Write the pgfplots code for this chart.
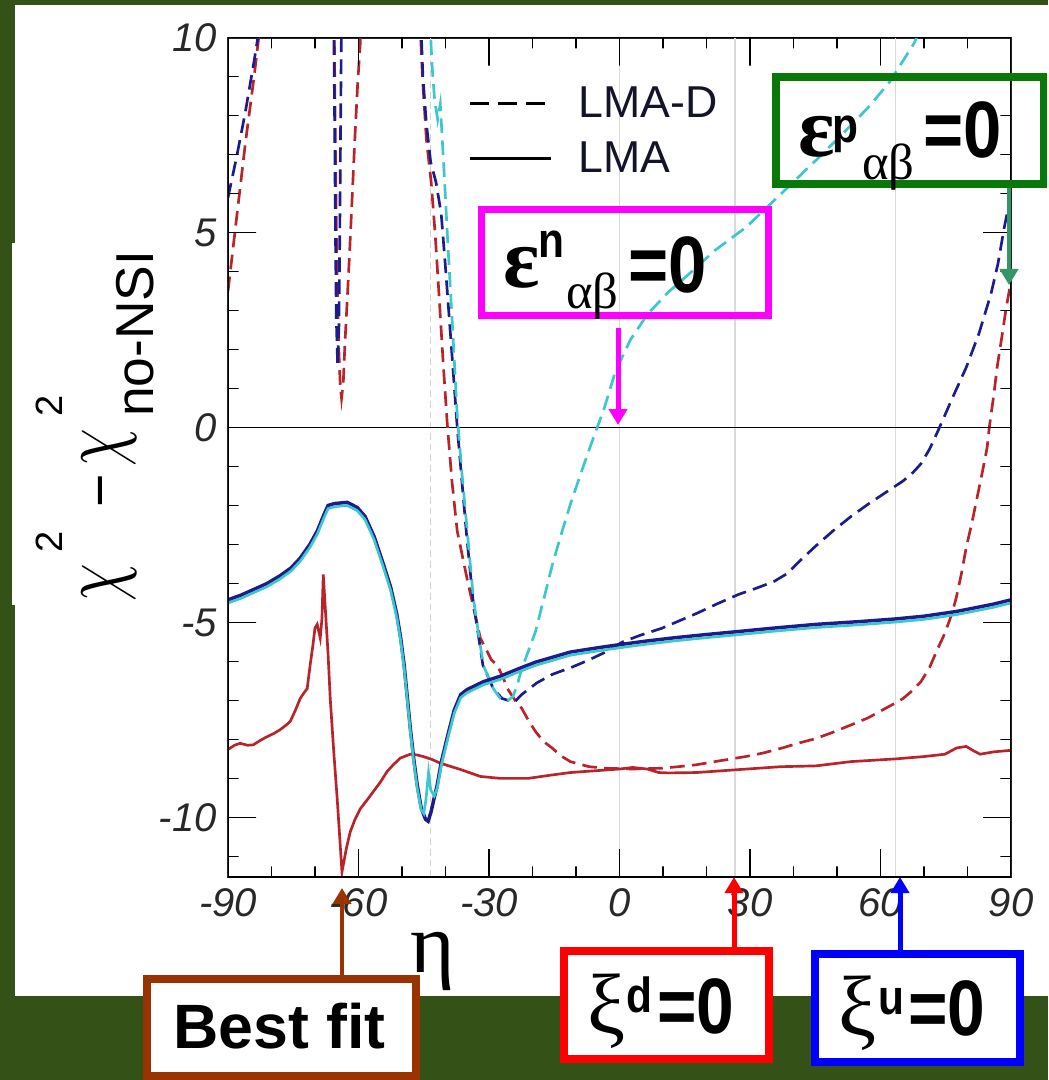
\documentclass[border=0pt]{standalone}
\usepackage{pgfplots}
\pgfplotsset{compat=1.18}
\usepackage{graphicx}
\usepackage{fontspec}
\setmainfont{Liberation Sans}
\newfontfamily\grk{Liberation Serif}
\usetikzlibrary{arrows.meta}
\definecolor{bggreen}{RGB}{52,81,23}
\definecolor{cnavy}{RGB}{28,28,140}
\definecolor{ccyan}{RGB}{60,198,205}
\definecolor{cred}{RGB}{185,35,42}
\definecolor{boxgreen}{RGB}{8,120,8}
\definecolor{arrgreen}{RGB}{51,150,100}
\definecolor{cbrown}{RGB}{153,51,0}
\definecolor{cmag}{RGB}{255,0,255}
\definecolor{tickcol}{RGB}{40,40,40}
\definecolor{legcol}{RGB}{20,20,40}
\newcommand\fs[1]{\fontsize{#1}{#1}\selectfont}
\begin{document}
\begin{tikzpicture}
\begin{scope}[x=0.75pt,y=-0.75pt]
\useasboundingbox (0,0) rectangle (1048,1080);
\fill[bggreen] (0,0) rectangle (1048,1080);
\fill[white] (15,5) rectangle (1048,996);
\fill[white] (12,243) rectangle (120,605);
\end{scope}
\begin{axis}[at={(171pt,-657.75pt)}, anchor=south west,
  width=587.25pt, height=629.5pt, scale only axis,
  xmin=-90, xmax=90, ymin=-11.53, ymax=10,
  xtick={-90,-60,-30,0,30,60,90},
  ytick={-10,-5,0,5,10},
  major tick length=0pt, minor tick length=0pt,
  axis line style={line width=1.5pt, black!85},
  /pgf/number format/assume math mode=true,
  ticklabel style={font=\fs{30pt}\itshape, text=tickcol},
  xticklabel style={yshift=-5pt},
  yticklabel style={xshift=-5pt},
  legend image code/.code={\draw[#1] (0pt,0pt) -- (60.75pt,0pt);},
  legend style={draw=none, fill=none, at={(rel axis cs:0.3065,0.9413)}, anchor=north west,
    font=\fs{33.5pt}, text=legcol, inner sep=0pt, row sep=16.5pt, column sep=19.5pt,
    nodes={inner sep=0pt, anchor=west}},
  legend cell align=left,
]
\addplot[gray!30, line width=1.1pt, forget plot] coordinates {(0,-11.53) (0,10)};
\addplot[gray!30, line width=1.1pt, forget plot] coordinates {(26.57,-11.53) (26.57,10)};
\addplot[gray!30, line width=1.1pt, forget plot] coordinates {(63.43,-11.53) (63.43,10)};
\addplot[gray!35, line width=1pt, dash pattern=on 5pt off 3pt, forget plot] coordinates {(-43.5,-11.53) (-43.5,10)};
\addplot[black, line width=1.1pt, forget plot] coordinates {(-90,0) (90,0)};
% red dashed (LMA-D)
\addplot[cred, line width=2pt, dash pattern=on 11pt off 5.5pt, forget plot] coordinates {
(-90,3.5) (-88,5.4) (-86,7.3) (-84,9.0) (-83,9.95) (-82.5,10.5)};
\addplot[cred, line width=2pt, dash pattern=on 11pt off 5.5pt, forget plot] coordinates {
(-65.6,10.5) (-65.3,7) (-65.0,4.2) (-64.6,2.2) (-64.2,1.1) (-63.9,0.75) (-63.5,1.15) (-63.1,2.2)
(-62.6,3.25) (-62.0,4.6) (-61.5,5.8) (-60.8,7.5) (-60.2,8.8) (-59.6,9.85) (-59.4,10.5)};
\addplot[cred, line width=2pt, dash pattern=on 11pt off 5.5pt, forget plot] coordinates {
(-45.9,10.5) (-45.3,9.0) (-44.4,7.4) (-43.3,6.3) (-42.4,5.0) (-41.6,3.6) (-40.5,1.6) (-39.6,0.1)
(-38.5,-1.4) (-37.3,-2.66) (-35,-3.9) (-32,-5.4) (-29.5,-5.95) (-28.1,-6.1) (-26.8,-6.4) (-25.8,-6.69)
(-24,-7.0) (-22.5,-7.2) (-21,-7.5) (-19.3,-7.8) (-17.5,-8.05) (-15.4,-8.23) (-13.5,-8.42) (-11.3,-8.57)
(-7,-8.7) (-3.2,-8.74) (3,-8.76) (9.7,-8.74) (13.5,-8.7) (17.7,-8.65) (23,-8.55) (29,-8.44) (33,-8.35)
(37.1,-8.23) (41,-8.1) (45.1,-7.98) (49,-7.82) (53.2,-7.63) (57.1,-7.45) (61.2,-7.2) (63.2,-7.08)
(65.2,-6.95) (67.3,-6.75) (69.3,-6.52) (71.3,-6.15) (73.2,-5.66) (74.5,-5.35) (75.8,-4.97) (76.6,-4.7)
(77.4,-4.37) (78.6,-3.75) (79.7,-3.08) (81,-2.45) (82.2,-1.8) (83.4,-1.15) (84.5,-0.52) (85,0)
(86,0.8) (86.8,1.54) (88,2.4) (88.9,3.08) (90,3.75)};
% navy dashed (LMA-D)
\addplot[cnavy, line width=2pt, dash pattern=on 11pt off 5.5pt, forget plot] coordinates {
(-90,5.9) (-88,6.95) (-86,8.1) (-84,9.4) (-83,10.1) (-82.5,10.5)};
\addplot[cnavy, line width=2pt, dash pattern=on 11pt off 5.5pt, forget plot] coordinates {
(-65.7,10.5) (-65.5,8) (-65.3,5) (-65.1,2.8) (-64.8,1.6) (-64.5,2.6) (-64.3,5) (-64.1,8) (-63.9,10.5)};
\addplot[cnavy, line width=2pt, dash pattern=on 11pt off 5.5pt, forget plot] coordinates {
(-45.7,10.5) (-45.2,9.0) (-44.4,7.8) (-43.4,6.8) (-42.2,6.3) (-41,5.5) (-40,4.1) (-38.6,2) (-37.3,0)
(-35.2,-2.7) (-33.7,-4.4) (-31.4,-6.1) (-29,-6.7) (-27,-6.95) (-24.2,-7.05) (-22.5,-6.85) (-19,-6.55)
(-15.4,-6.33) (-11,-6.15) (-7.4,-5.98) (-3,-5.75) (0.7,-5.5) (5,-5.32) (9.7,-5.15) (13.5,-4.97)
(17.7,-4.77) (22.5,-4.52) (27.4,-4.28) (31.5,-4.12) (35.5,-3.95) (38.5,-3.75) (41,-3.47) (45,-3.05)
(49,-2.66) (53,-2.3) (57.1,-1.97) (61,-1.68) (65.2,-1.37) (67.5,-1.15) (69.3,-0.93) (71.3,-0.55)
(73.2,-0.09) (76.5,0.75) (79.7,1.54) (82.6,2.4) (85.4,3.43) (87,4.2) (88.4,5.1) (90,6.0)};
% cyan dashed (LMA-D)
\addplot[ccyan, line width=2pt, dash pattern=on 11pt off 5.5pt, forget plot] coordinates {
(-43.6,10.5) (-43.1,9.3) (-42.5,8.4) (-41.8,7.9) (-41.2,8.3) (-40.8,7.5) (-40.2,6.3) (-39.6,5.0)
(-38.4,2.6) (-37.3,0.3) (-36.2,-1.2) (-35,-2.66) (-33.6,-4.37) (-32.4,-5.3) (-31.3,-6.1) (-29,-6.7)
(-27.4,-6.95) (-25.8,-7.02) (-24.5,-6.9) (-23.5,-6.6) (-22.5,-6.2) (-21,-5.75) (-19.3,-5.23)
(-17.3,-4.35) (-15.4,-3.5) (-13.3,-2.7) (-11.3,-1.97) (-8.8,-1.15) (-6.5,-0.42) (-3.5,0.5)
(-0.9,1.45) (2.5,2.25) (6.4,2.9) (11,3.45) (16.1,3.95) (22,4.55) (29,5.13) (35.5,5.82) (40,6.3)
(45.1,6.85) (51,7.5) (57.1,8.2) (62,8.85) (67.7,9.85) (69,10.2) (70,10.5)};
% red solid (LMA)
\addplot[cred, line width=2pt, forget plot] coordinates {
(-90,-8.26) (-88.5,-8.15) (-87.2,-8.1) (-85.5,-8.15) (-84.2,-8.14) (-82.5,-8.02) (-81,-7.93)
(-79.5,-7.85) (-78,-7.75) (-76.5,-7.62) (-75.7,-7.54) (-74.5,-7.25) (-73.4,-6.95) (-72.5,-6.8)
(-71.8,-6.7) (-71.1,-6.08) (-70.5,-5.6) (-70,-5.14) (-69.5,-5.05) (-68.8,-5.4) (-68.4,-4.9)
(-68.1,-3.77) (-67.6,-4.7) (-67,-5.8) (-66.5,-6.95) (-65.7,-8.3) (-64.9,-9.52) (-63.8,-11.4)
(-62.8,-10.8) (-61.9,-10.37) (-60.8,-10.05) (-59.6,-9.78) (-58,-9.55) (-56.6,-9.34) (-55,-9.1)
(-53.4,-8.82) (-52,-8.65) (-50.4,-8.48) (-48.1,-8.38) (-46.5,-8.4) (-45.1,-8.44) (-43,-8.52)
(-41.2,-8.61) (-36.6,-8.77) (-32,-8.95) (-27.4,-9.0) (-21,-9.0) (-16,-8.92) (-11.3,-8.85) (-5,-8.8)
(0,-8.76) (3,-8.72) (6.4,-8.76) (9,-8.85) (11.3,-8.86) (17.7,-8.85) (26.7,-8.78) (37.1,-8.7)
(45.1,-8.68) (53.2,-8.57) (63.5,-8.5) (70,-8.44) (74.8,-8.38) (77.5,-8.22) (79.7,-8.18) (81.5,-8.3)
(82.9,-8.38) (86,-8.32) (90,-8.28)};
% navy solid (LMA)
\addplot[cnavy, line width=2.6pt, forget plot] coordinates {
(-90,-4.42) (-87,-4.3) (-84,-4.15) (-81,-4.0) (-78,-3.8) (-75.5,-3.6) (-73.4,-3.35) (-71.2,-3.0)
(-69.5,-2.66) (-68,-2.25) (-67,-2.0) (-65.5,-1.95) (-62.6,-1.92) (-60.3,-2.05) (-58.5,-2.28)
(-56.4,-2.8) (-54.3,-3.5) (-52.6,-4.1) (-51.2,-4.79) (-50.3,-5.4) (-49.5,-6.1) (-48.8,-6.9)
(-48.1,-7.7) (-47.3,-8.5) (-46.5,-9.17) (-45.6,-9.75) (-44.6,-10.05) (-44,-10.1) (-43.3,-9.85)
(-42.6,-9.5) (-41.9,-9.17) (-41,-8.6) (-39.6,-7.95) (-38,-7.25) (-36.5,-6.85) (-35,-6.72)
(-31.3,-6.52) (-27.4,-6.38) (-22.8,-6.17) (-19.3,-6.02) (-15,-5.88) (-11.3,-5.76) (-5,-5.65)
(0,-5.57) (6,-5.48) (12.9,-5.39) (20,-5.31) (26.7,-5.24) (35,-5.15) (45.1,-5.05) (55,-4.98)
(63.5,-4.91) (70,-4.84) (77.4,-4.72) (82,-4.62) (86,-4.53) (90,-4.42)};
% cyan solid (LMA)
\addplot[ccyan, line width=2pt, forget plot] coordinates {
(-90,-4.5) (-87,-4.38) (-84,-4.23) (-81,-4.08) (-78,-3.88) (-75.5,-3.68) (-73.4,-3.43) (-71.2,-3.08)
(-69.5,-2.74) (-68,-2.33) (-67,-2.08) (-65.5,-2.03) (-62.6,-2.0) (-60.3,-2.13) (-58.5,-2.36)
(-56.4,-2.88) (-54.3,-3.58) (-52.6,-4.18) (-51.2,-4.87) (-50.3,-5.48) (-49.5,-6.18) (-48.8,-6.98)
(-48.1,-7.78) (-47.3,-8.58) (-46.5,-9.25) (-45.6,-9.8) (-45.0,-9.9) (-44.5,-9.55) (-43.9,-8.85)
(-43.4,-9.3) (-42.6,-9.45) (-41.9,-9.25) (-41,-8.68) (-39.6,-8.03) (-38,-7.33) (-36.5,-6.93)
(-35,-6.8) (-31.3,-6.6) (-27.4,-6.46) (-22.8,-6.25) (-19.3,-6.1) (-15,-5.96) (-11.3,-5.84)
(-5,-5.73) (0,-5.65) (6,-5.56) (12.9,-5.47) (20,-5.39) (26.7,-5.32) (35,-5.23) (45.1,-5.13)
(55,-5.06) (63.5,-4.99) (70,-4.92) (77.4,-4.8) (82,-4.7) (86,-4.61) (90,-4.5)};
% tick marks as comb paths along the frame (inside)
\addplot[black, line width=1.2pt, line join=bevel, forget plot] coordinates {
(-90,-11.53) (-80,-11.53) (-80,-11.256) (-80,-11.53) (-70,-11.53) (-70,-11.256) (-70,-11.53)
(-60,-11.53) (-60,-10.812) (-60,-11.53) (-50,-11.53) (-50,-11.256) (-50,-11.53)
(-40,-11.53) (-40,-11.256) (-40,-11.53) (-30,-11.53) (-30,-10.812) (-30,-11.53)
(-20,-11.53) (-20,-11.256) (-20,-11.53) (-10,-11.53) (-10,-11.256) (-10,-11.53)
(0,-11.53) (0,-10.812) (0,-11.53) (10,-11.53) (10,-11.256) (10,-11.53)
(20,-11.53) (20,-11.256) (20,-11.53) (30,-11.53) (30,-10.812) (30,-11.53)
(40,-11.53) (40,-11.256) (40,-11.53) (50,-11.53) (50,-11.256) (50,-11.53)
(60,-11.53) (60,-10.812) (60,-11.53) (70,-11.53) (70,-11.256) (70,-11.53)
(80,-11.53) (80,-11.256) (80,-11.53) (90,-11.53)};
\addplot[black, line width=1.2pt, line join=bevel, forget plot] coordinates {
(-90,10) (-80,10) (-80,9.726) (-80,10) (-70,10) (-70,9.726) (-70,10)
(-60,10) (-60,9.282) (-60,10) (-50,10) (-50,9.726) (-50,10)
(-40,10) (-40,9.726) (-40,10) (-30,10) (-30,9.282) (-30,10)
(-20,10) (-20,9.726) (-20,10) (-10,10) (-10,9.726) (-10,10)
(0,10) (0,9.282) (0,10) (10,10) (10,9.726) (10,10)
(20,10) (20,9.726) (20,10) (30,10) (30,9.282) (30,10)
(40,10) (40,9.726) (40,10) (50,10) (50,9.726) (50,10)
(60,10) (60,9.282) (60,10) (70,10) (70,9.726) (70,10)
(80,10) (80,9.726) (80,10) (90,10)};
\addplot[black, line width=1.2pt, line join=bevel, forget plot] coordinates {
(-90,-11.53) (-90,-11) (-87.548,-11) (-90,-11) (-90,-10) (-83.563,-10) (-90,-10)
(-90,-9) (-87.548,-9) (-90,-9) (-90,-8) (-87.548,-8) (-90,-8) (-90,-7) (-87.548,-7) (-90,-7)
(-90,-6) (-87.548,-6) (-90,-6) (-90,-5) (-83.563,-5) (-90,-5) (-90,-4) (-87.548,-4) (-90,-4)
(-90,-3) (-87.548,-3) (-90,-3) (-90,-2) (-87.548,-2) (-90,-2) (-90,-1) (-87.548,-1) (-90,-1)
(-90,0) (-83.563,0) (-90,0) (-90,1) (-87.548,1) (-90,1) (-90,2) (-87.548,2) (-90,2)
(-90,3) (-87.548,3) (-90,3) (-90,4) (-87.548,4) (-90,4) (-90,5) (-83.563,5) (-90,5)
(-90,6) (-87.548,6) (-90,6) (-90,7) (-87.548,7) (-90,7) (-90,8) (-87.548,8) (-90,8)
(-90,9) (-87.548,9) (-90,9) (-90,10)};
\addplot[black, line width=1.2pt, line join=bevel, forget plot] coordinates {
(90,-11.53) (90,-11) (87.548,-11) (90,-11) (90,-10) (83.563,-10) (90,-10)
(90,-9) (87.548,-9) (90,-9) (90,-8) (87.548,-8) (90,-8) (90,-7) (87.548,-7) (90,-7)
(90,-6) (87.548,-6) (90,-6) (90,-5) (83.563,-5) (90,-5) (90,-4) (87.548,-4) (90,-4)
(90,-3) (87.548,-3) (90,-3) (90,-2) (87.548,-2) (90,-2) (90,-1) (87.548,-1) (90,-1)
(90,0) (83.563,0) (90,0) (90,1) (87.548,1) (90,1) (90,2) (87.548,2) (90,2)
(90,3) (87.548,3) (90,3) (90,4) (87.548,4) (90,4) (90,5) (83.563,5) (90,5)
(90,6) (87.548,6) (90,6) (90,7) (87.548,7) (90,7) (90,8) (87.548,8) (90,8)
(90,9) (87.548,9) (90,9) (90,10)};
\addlegendimage{black, line width=2.6pt, dash pattern=on 14pt off 7pt}
\addlegendentry{LMA-D}
\addlegendimage{black, line width=2.6pt}
\addlegendentry{LMA}
\end{axis}
\begin{scope}[x=0.75pt,y=-0.75pt]
% y label
\node[rotate=90, anchor=base west, inner sep=0pt] at (119,602) {\scalebox{4.5}[6.5]{$\chi$}};
\node[rotate=90, anchor=base west, inner sep=0pt] at (62,553) {\fs{28.5pt}2};
\node[rotate=90, anchor=base west, inner sep=0pt] at (119,508) {\fs{43pt}−};
\node[rotate=90, anchor=base west, inner sep=0pt] at (119,467) {\scalebox{4.5}[6.5]{$\chi$}};
\node[rotate=90, anchor=base west, inner sep=0pt] at (62,417) {\fs{28.5pt}2};
\node[rotate=90, anchor=base west, inner sep=0pt] at (153,417) {\fs{40pt}no-NSI};
% eta
\node[anchor=base west, inner sep=0pt] at (410,972) {\grk\fs{64pt}η};
% magenta box
\draw[cmag, line width=5.25pt] (481.5,209.5) rectangle (768.5,315.5);
\node[anchor=base west, inner sep=0pt] at (503,288) {\grk\bfseries\fs{64pt}ε};
\node[anchor=base west, inner sep=0pt] at (538,258) {\scalebox{0.86}[1]{\bfseries\fs{37pt}n}};
\node[anchor=base west, inner sep=0pt] at (566,308) {\grk\fs{38pt}αβ};
\node[anchor=base west, inner sep=0pt] at (628,292) {\scalebox{0.86}[1]{\bfseries\fs{60pt}=0}};
\draw[cmag, line width=3.75pt, -{Triangle[length=12pt,width=13.5pt]}] (618,328) -- (618,425);
% green box
\draw[boxgreen, line width=5.5pt] (776,77) rectangle (1043.5,184);
\node[anchor=base west, inner sep=0pt] at (798,157) {\grk\bfseries\fs{64pt}ε};
\node[anchor=base west, inner sep=0pt] at (832,143) {\scalebox{0.86}[1]{\bfseries\fs{37pt}p}};
\node[anchor=base west, inner sep=0pt] at (862,180) {\grk\fs{38pt}αβ};
\node[anchor=base west, inner sep=0pt] at (923,158) {\scalebox{0.86}[1]{\bfseries\fs{60pt}=0}};
\draw[arrgreen, line width=3.5pt, -{Triangle[length=12pt,width=13.5pt]}] (1009,188) -- (1009,285);
% best fit box
\draw[cbrown, line width=6pt, fill=white] (147,979) rectangle (416,1076);
\node[anchor=base west, inner sep=0pt] at (173,1048) {\bfseries\fs{47pt}Best fit};
\draw[cbrown, line width=3.5pt, -{Triangle[length=12pt,width=13.5pt]}] (342,975) -- (342,888);
% xi d box
\draw[red, line width=6pt, fill=white] (564,951) rectangle (769,1059);
\node[anchor=base west, inner sep=0pt] at (587,1033) {\grk\fs{64pt}ξ};
\node[anchor=base west, inner sep=0pt] at (626,1012) {\scalebox{0.86}[1]{\bfseries\fs{37pt}d}};
\node[anchor=base west, inner sep=0pt] at (657,1033) {\scalebox{0.86}[1]{\bfseries\fs{59pt}=0}};
\draw[red, line width=3.75pt, -{Triangle[length=12pt,width=13.5pt]}] (734,947) -- (734,877);
% xi u box
\draw[blue, line width=6pt, fill=white] (815,954) rectangle (1020,1062);
\node[anchor=base west, inner sep=0pt] at (838,1035) {\grk\fs{64pt}ξ};
\node[anchor=base west, inner sep=0pt] at (878,1014) {\scalebox{0.86}[1]{\bfseries\fs{37pt}u}};
\node[anchor=base west, inner sep=0pt] at (908,1035) {\scalebox{0.86}[1]{\bfseries\fs{59pt}=0}};
\draw[blue, line width=3.75pt, -{Triangle[length=12pt,width=13.5pt]}] (900,950) -- (900,877);
\end{scope}
\end{tikzpicture}
\end{document}
